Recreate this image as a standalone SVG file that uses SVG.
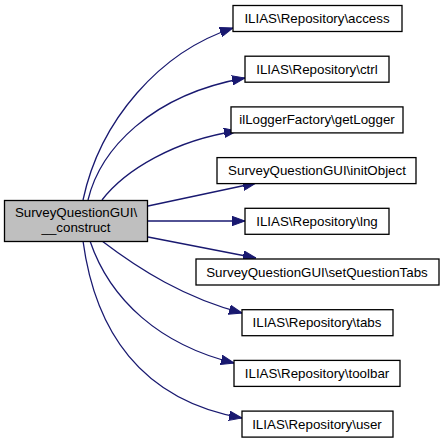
<svg xmlns="http://www.w3.org/2000/svg" width="444" height="443" viewBox="0 0 444 443">
<style>
.n rect{fill:#ffffff;stroke:#000000;stroke-width:1.3}
.m rect{fill:#bfbfbf;stroke:#000000;stroke-width:1.3}
text{font-family:"Liberation Sans",Arial,sans-serif;font-size:13.33px;fill:#000000;text-anchor:middle}
.e path{fill:none;stroke:#191970;stroke-width:1.3;marker-end:url(#ah)}
</style>
<defs>
<marker id="ah" viewBox="0 -5 13 10" markerWidth="13" markerHeight="10" refX="13" refY="0" orient="auto" markerUnits="userSpaceOnUse">
<path d="M0,-4.7 L13,0 L0,4.7 Z" fill="#191970" stroke="#191970" stroke-width="1"/>
</marker>
</defs>
<rect width="444" height="443" fill="#ffffff"/>
<g id="edges" class="e">
<path d="M83,200 C100,120 160,52 233,28"/>
<path d="M88,200 C100,150 150,95 245,78"/>
<path d="M102,200 C125,170 175,140 237,131"/>
<path d="M148,206 L256,183"/>
<path d="M148,221 L245,221"/>
<path d="M148,237 L256,258"/>
<path d="M102,241 C140,270 185,298 242,313"/>
<path d="M90,241 C110,300 160,345 234,363"/>
<path d="M83,241 C95,330 140,400 242,418"/>
</g>
<g id="main" class="m">
<rect x="4.5" y="200.5" width="143" height="41"/>
<text x="76" y="217">SurveyQuestionGUI\</text>
<text x="76" y="232">__construct</text>
</g>
<g id="access" class="n"><rect x="233" y="5.5" width="169" height="26"/><text x="317" y="23">ILIAS\Repository\access</text></g>
<g id="ctrl" class="n"><rect x="245" y="56.2" width="144" height="26"/><text x="317" y="73.7">ILIAS\Repository\ctrl</text></g>
<g id="getLogger" class="n"><rect x="231" y="106.9" width="172" height="26"/><text x="317" y="124.4">ilLoggerFactory\getLogger</text></g>
<g id="initObject" class="n"><rect x="217" y="157.6" width="199" height="26"/><text x="317" y="175.1">SurveyQuestionGUI\initObject</text></g>
<g id="lng" class="n"><rect x="245" y="208.3" width="144" height="26"/><text x="317" y="225.8">ILIAS\Repository\lng</text></g>
<g id="setQuestionTabs" class="n"><rect x="196" y="259" width="243" height="26"/><text x="317" y="276.5">SurveyQuestionGUI\setQuestionTabs</text></g>
<g id="tabs" class="n"><rect x="242" y="309.7" width="151" height="26"/><text x="317" y="327.2">ILIAS\Repository\tabs</text></g>
<g id="toolbar" class="n"><rect x="234" y="360.4" width="166" height="26"/><text x="317" y="377.9">ILIAS\Repository\toolbar</text></g>
<g id="user" class="n"><rect x="242" y="411.1" width="151" height="26"/><text x="317" y="428.6">ILIAS\Repository\user</text></g>
</svg>
